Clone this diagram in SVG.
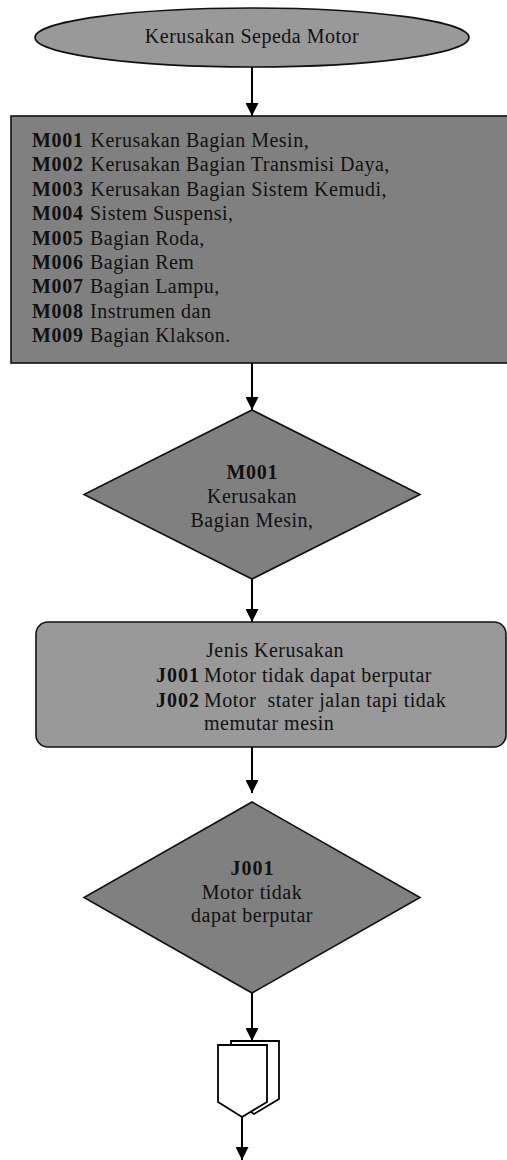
<svg xmlns="http://www.w3.org/2000/svg" width="507" height="1160" viewBox="0 0 507 1160">
<style>
text{font-family:"Liberation Serif","Times New Roman",serif;font-size:20px;fill:#111}
.r{letter-spacing:0.5px}
.b{font-weight:bold;font-size:20px}
.c{text-anchor:middle}
.shape{stroke:#111;stroke-width:1.6}
.dark{fill:#808080}
.light{fill:#999999}
.conn line{stroke:#000;stroke-width:2;marker-end:url(#ah)}
.page{fill:#fff;stroke:#000;stroke-width:1.8;stroke-linejoin:miter}
</style>
<defs>
<marker id="ah" viewBox="0 0 14 14" refX="14" refY="7" markerWidth="14" markerHeight="13" markerUnits="userSpaceOnUse" orient="auto">
<path d="M0,0 L14,7 L0,14 z" fill="#000"/>
</marker>
</defs>
<rect width="507" height="1160" fill="#fff"/>
<g id="connectors" class="conn">
<line x1="252" y1="67" x2="252" y2="116"/>
<line x1="252" y1="363" x2="252" y2="410"/>
<line x1="252" y1="579" x2="252" y2="622"/>
<line x1="252" y1="747" x2="252" y2="793"/>
<line x1="252" y1="993" x2="252" y2="1041"/>
<line x1="242" y1="1117" x2="242" y2="1160"/>
</g>
<g id="start">
<ellipse class="shape light" cx="252" cy="37.5" rx="217" ry="29.5"/>
<text class="c r" x="252" y="43">Kerusakan Sepeda Motor</text>
</g>
<g id="kategori">
<rect class="shape dark" x="11" y="116" width="500" height="247"/>
<text x="32" y="147"><tspan class="b" textLength="51">M001</tspan><tspan class="r" x="90.5">Kerusakan Bagian Mesin,</tspan></text>
<text x="32" y="171.4"><tspan class="b" textLength="51">M002</tspan><tspan class="r" x="90.5">Kerusakan Bagian Transmisi Daya,</tspan></text>
<text x="32" y="195.8"><tspan class="b" textLength="51">M003</tspan><tspan class="r" x="90.5">Kerusakan Bagian Sistem Kemudi,</tspan></text>
<text x="32" y="220.2"><tspan class="b" textLength="51">M004</tspan><tspan class="r" x="90">Sistem Suspensi,</tspan></text>
<text x="32" y="244.6"><tspan class="b" textLength="51">M005</tspan><tspan class="r" x="90">Bagian Roda,</tspan></text>
<text x="32" y="269"><tspan class="b" textLength="51">M006</tspan><tspan class="r" x="90">Bagian Rem</tspan></text>
<text x="32" y="293.4"><tspan class="b" textLength="51">M007</tspan><tspan class="r" x="90">Bagian Lampu,</tspan></text>
<text x="32" y="317.8"><tspan class="b" textLength="51">M008</tspan><tspan class="r" x="90">Instrumen dan</tspan></text>
<text x="32" y="342.2"><tspan class="b" textLength="51">M009</tspan><tspan class="r" x="90">Bagian Klakson.</tspan></text>
</g>
<g id="decision-m001">
<polygon class="shape dark" points="252,410 420,494.5 252,579 84,494.5"/>
<text class="b" x="226.5" y="479" textLength="51">M001</text>
<text class="c r" x="252" y="503">Kerusakan</text>
<text class="c r" x="252" y="527">Bagian Mesin,</text>
</g>
<g id="jenis">
<rect class="shape light" x="36" y="622" width="470" height="125" rx="12" ry="12"/>
<text class="r" x="206" y="657">Jenis Kerusakan</text>
<text x="156" y="682"><tspan class="b" textLength="43">J001</tspan><tspan class="r" x="204">Motor tidak dapat berputar</tspan></text>
<text x="156" y="707"><tspan class="b" textLength="43">J002</tspan><tspan class="r" x="204" xml:space="preserve">Motor  stater jalan tapi tidak</tspan></text>
<text class="r" x="204" y="729.5">memutar mesin</text>
</g>
<g id="decision-j001">
<polygon class="shape dark" points="252,802 420,897.5 252,993 84,897.5"/>
<text class="b" x="230.5" y="875" textLength="43">J001</text>
<text class="c r" x="252" y="899">Motor tidak</text>
<text class="c r" x="252" y="922">dapat berputar</text>
</g>
<g id="offpage">
<polygon class="page" points="231,1041 279,1041 279,1099 254,1114 231,1099"/>
<polygon class="page" points="218,1045 267,1045 267,1102 242,1117 218,1102"/>
</g>
</svg>
